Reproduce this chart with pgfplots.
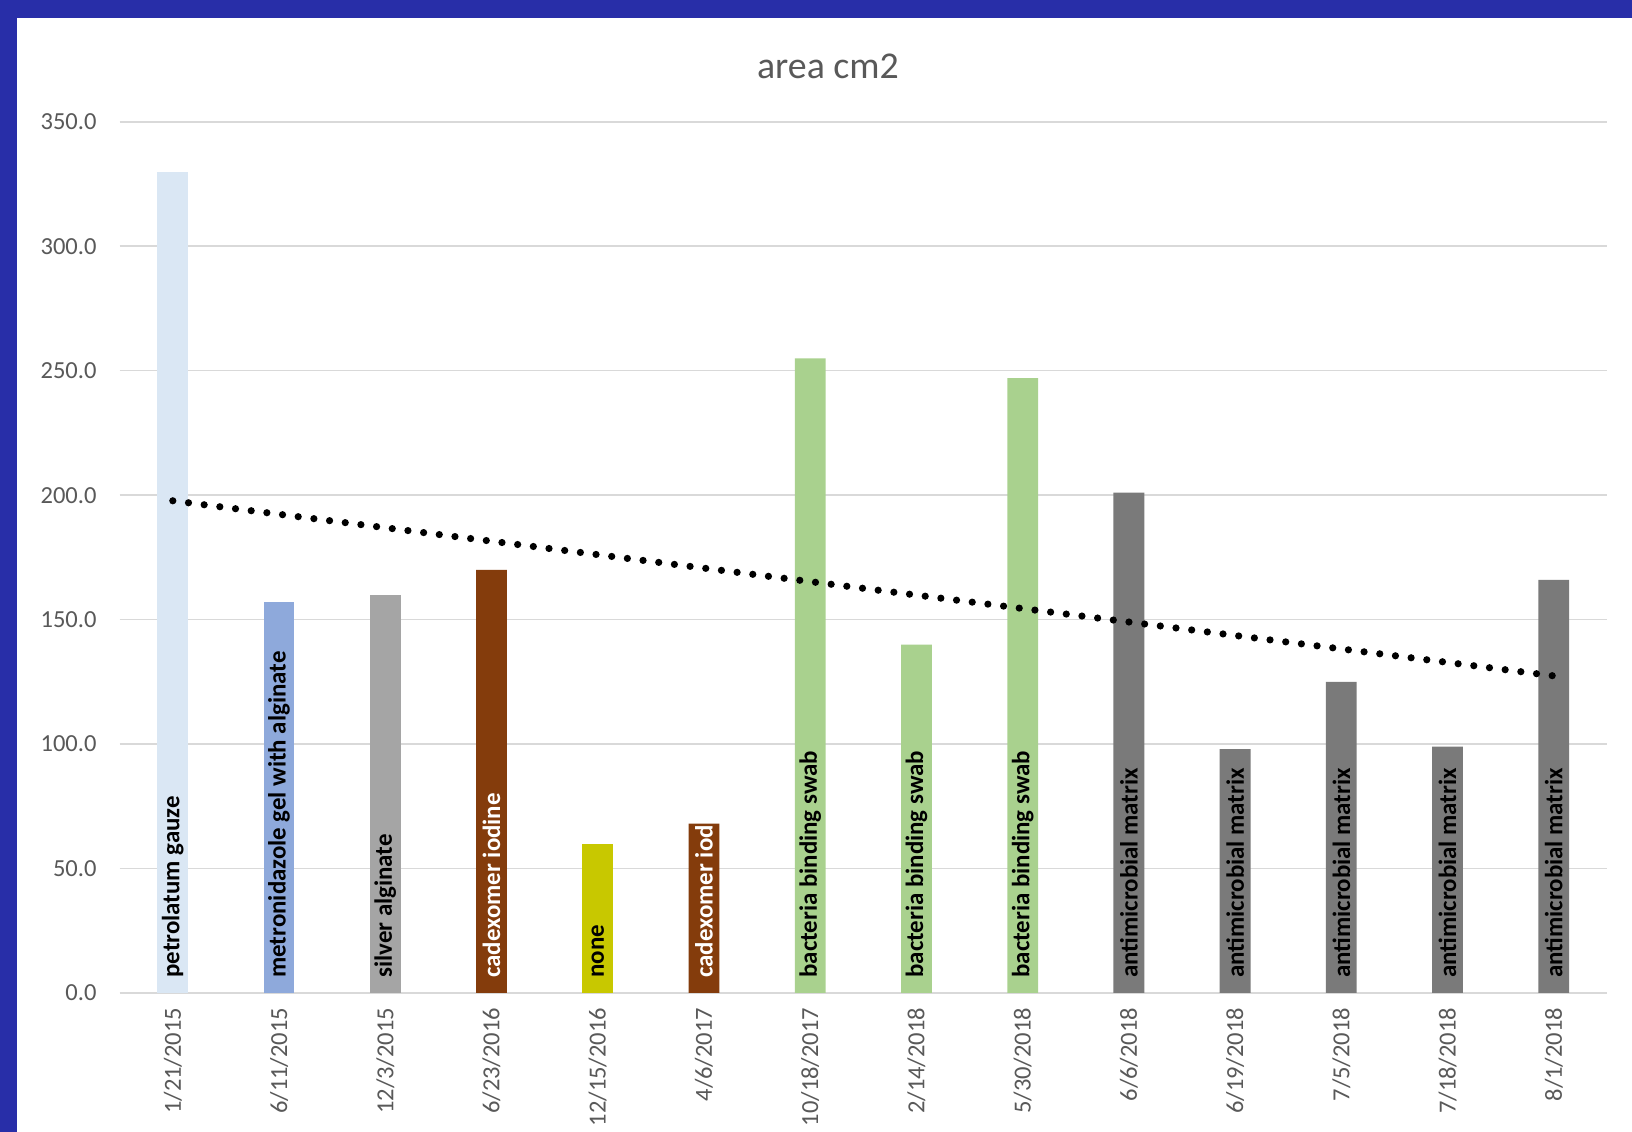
\documentclass[border=0pt]{standalone}
\usepackage{fontspec}
\setmainfont{Carlito}
\usepackage{pgfplots}
\usepackage{pgfplotstable}
\pgfplotsset{compat=1.18}

\definecolor{frameblue}{RGB}{40,46,168}
\definecolor{txtgray}{RGB}{89,89,89}
\definecolor{gridgray}{RGB}{217,217,217}
\definecolor{cPetro}{RGB}{218,231,244}
\definecolor{cMetro}{RGB}{142,169,219}
\definecolor{cSilver}{RGB}{165,165,165}
\definecolor{cCadex}{RGB}{132,60,12}
\definecolor{cNone}{RGB}{200,200,0}
\definecolor{cSwab}{RGB}{169,209,142}
\definecolor{cMatrix}{RGB}{122,122,122}

% wound area per visit; grp = dressing used
\pgfplotstableread{
x  y   grp
0  330 1
1  157 2
2  160 3
3  170 4
4  60  5
5  68  4
6  255 6
7  140 6
8  247 6
9  201 7
10 98  7
11 125 7
12 99  7
13 166 7
}\areadata

\begin{document}
\begin{tikzpicture}
\useasboundingbox (0,0) rectangle (816bp,566bp);
\fill[frameblue] (0,0) rectangle (816bp,566bp);
\fill[white] (8.5bp,0) rectangle (816bp,557bp);

\node[txtgray, font=\fontsize{19}{23}\selectfont] at (414bp,533bp) {area cm2};

\begin{axis}[
  at={(59.85bp,69.5bp)}, anchor=south west,
  scale only axis, width=743.6bp, height=435.6bp,
  xmin=-0.5, xmax=13.5, ymin=0, ymax=350,
  ybar, bar width=0.29,
  axis line style={draw=none},
  tick style={draw=none},
  ymajorgrids, grid style={gridgray, line width=0.75bp},
  ytick={0,50,...,350},
  yticklabel style={txtgray, font=\fontsize{12.3}{14}\selectfont,
    anchor=east, inner sep=0pt, xshift=-11.4bp},
  xtick={0,...,13},
  xticklabels={1/21/2015,6/11/2015,12/3/2015,6/23/2016,12/15/2016,4/6/2017,
    10/18/2017,2/14/2018,5/30/2018,6/6/2018,6/19/2018,7/5/2018,7/18/2018,8/1/2018},
  xticklabel style={txtgray, font=\fontsize{12.3}{14}\selectfont,
    yshift=-3bp, rotate=90, anchor=east, inner sep=0pt},
  /pgf/number format/fixed,
  /pgf/number format/fixed zerofill,
  /pgf/number format/precision=1,
  /pgf/number format/assume math mode=true,
  clip=false,
]
\addplot[fill=cPetro, draw=none, bar shift=0pt]
  table[x=x, y=y, restrict expr to domain={\thisrow{grp}}{1:1}] {\areadata};
\addplot[fill=cMetro, draw=none, bar shift=0pt]
  table[x=x, y=y, restrict expr to domain={\thisrow{grp}}{2:2}] {\areadata};
\addplot[fill=cSilver, draw=none, bar shift=0pt]
  table[x=x, y=y, restrict expr to domain={\thisrow{grp}}{3:3}] {\areadata};
\addplot[fill=cCadex, draw=none, bar shift=0pt]
  table[x=x, y=y, restrict expr to domain={\thisrow{grp}}{4:4}] {\areadata};
\addplot[fill=cNone, draw=none, bar shift=0pt]
  table[x=x, y=y, restrict expr to domain={\thisrow{grp}}{5:5}] {\areadata};
\addplot[fill=cSwab, draw=none, bar shift=0pt]
  table[x=x, y=y, restrict expr to domain={\thisrow{grp}}{6:6}] {\areadata};
\addplot[fill=cMatrix, draw=none, bar shift=0pt]
  table[x=x, y=y, restrict expr to domain={\thisrow{grp}}{7:7}] {\areadata};

% linear trend of the area over the visits
\addplot[sharp plot, black, line width=3.6bp, line cap=round,
  dash pattern=on 0pt off 7.9bp]
  table[x=x, y={create col/linear regression={y=y}}] {\areadata};

% dressing names written inside the bars
\begin{scope}[every node/.style={rotate=90, anchor=west, inner sep=0pt,
    font=\fontsize{12.5}{15}\selectfont\bfseries}]
\node at (0,6) {petrolatum gauze};
\node at (1,6) {metronidazole gel with alginate};
\node at (2,6) {silver alginate};
\node[white] at (3,6) {cadexomer iodine};
\node at (4,6) {none};
\node[white] at (5,6) {cadexomer iod};
\node at (6,6) {bacteria binding swab};
\node at (7,6) {bacteria binding swab};
\node at (8,6) {bacteria binding swab};
\node at (9,6) {antimicrobial matrix};
\node at (10,6) {antimicrobial matrix};
\node at (11,6) {antimicrobial matrix};
\node at (12,6) {antimicrobial matrix};
\node at (13,6) {antimicrobial matrix};
\end{scope}
\end{axis}
\end{tikzpicture}
\end{document}
